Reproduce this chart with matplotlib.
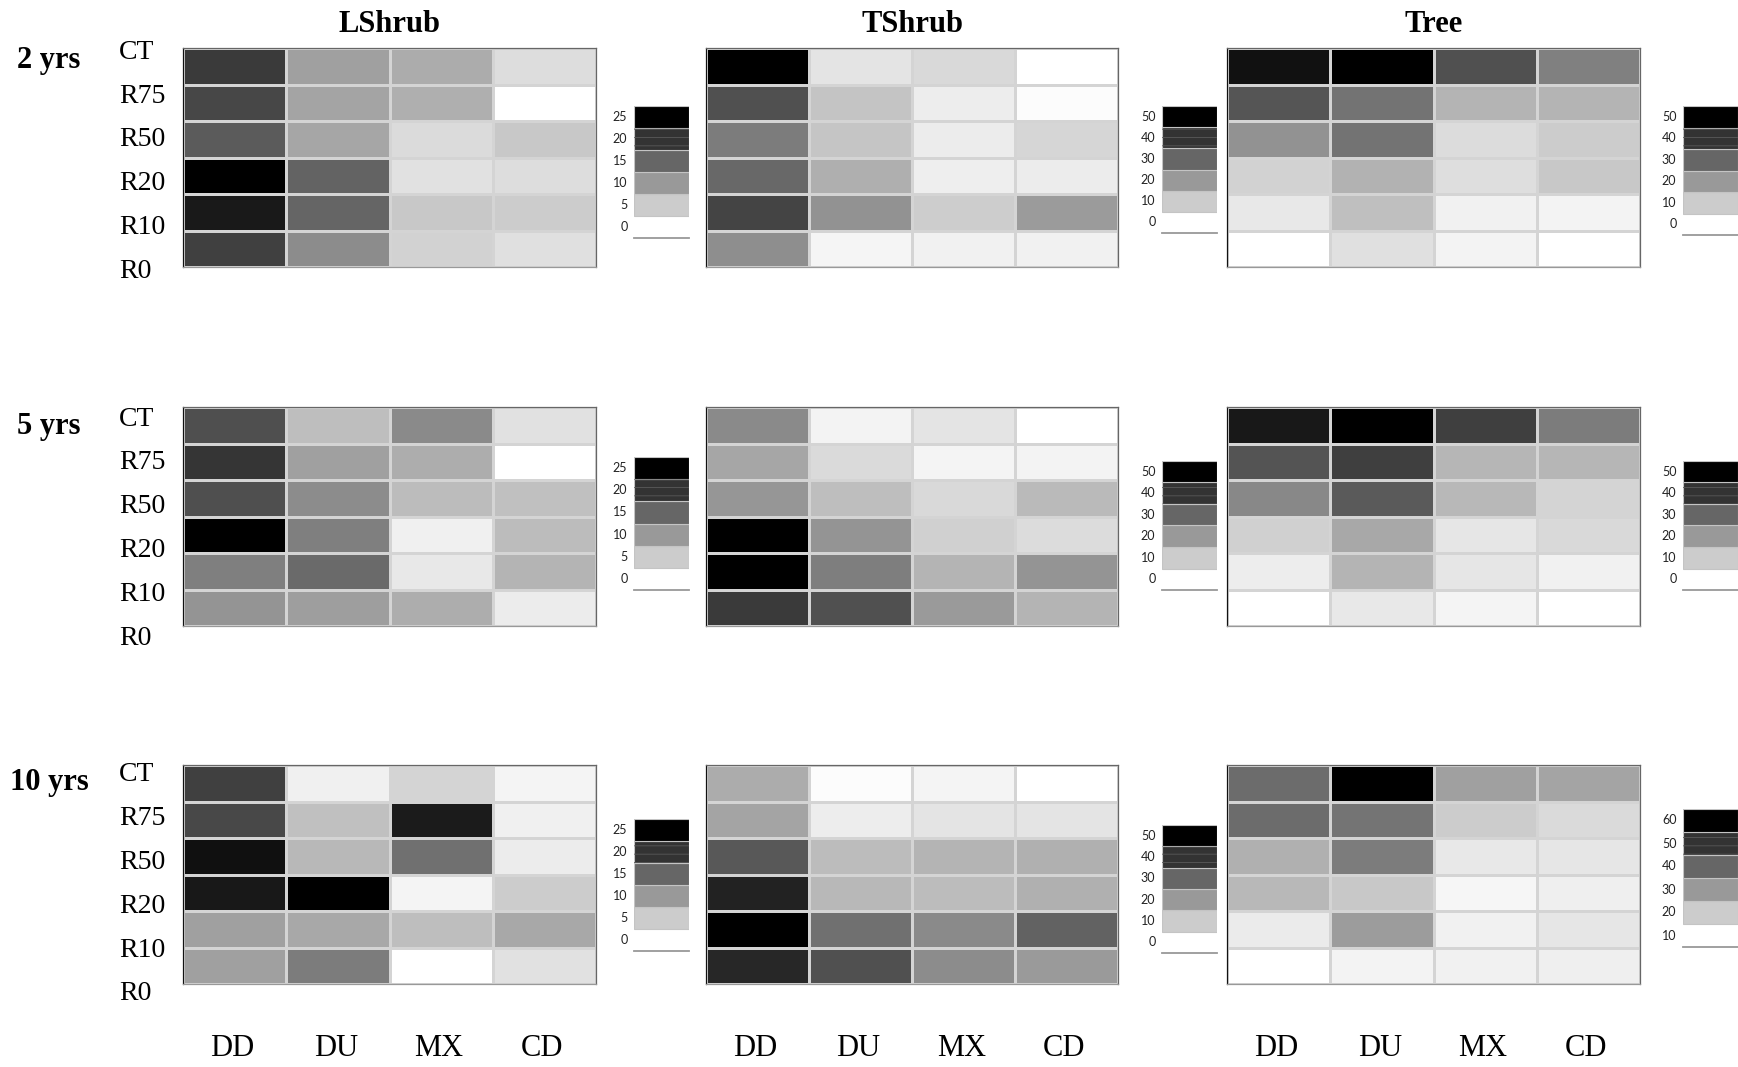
import numpy as np
import matplotlib
matplotlib.use('Agg')
import matplotlib.pyplot as plt
from matplotlib.colors import LinearSegmentedColormap, Normalize
from matplotlib.patches import Rectangle
from matplotlib.transforms import blended_transform_factory

plt.rcParams['font.family'] = 'Liberation Serif'
plt.rcParams['hatch.linewidth'] = 0.6

rows = ['CT', 'R75', 'R50', 'R20', 'R10', 'R0']
cols = ['DD', 'DU', 'MX', 'CD']
groups = ['LShrub', 'TShrub', 'Tree']
periods = ['2 yrs', '5 yrs', '10 yrs']

# cell values (rows CT..R0, cols DD DU MX CD)
lshrub_2 = [[19.3, 9.3, 8.2, 3.4],
            [18.0, 8.9, 7.9, 0.0],
            [16.1, 8.7, 3.6, 5.4],
            [25.0, 15.3, 3.0, 3.4],
            [22.5, 15.1, 5.4, 5.0],
            [18.7, 11.3, 4.4, 3.1]]
tshrub_2 = [[50.0, 5.3, 7.6, 0.0],
            [34.3, 11.6, 3.7, 0.6],
            [25.7, 11.4, 3.9, 8.2],
            [29.6, 15.7, 3.5, 3.9],
            [36.7, 21.4, 9.8, 19.6],
            [22.2, 2.0, 2.9, 2.9]]
tree_2 = [[46.5, 50.0, 34.3, 24.9],
          [33.3, 27.5, 14.7, 14.7],
          [21.4, 27.5, 6.9, 10.0],
          [8.8, 15.1, 6.5, 10.8],
          [4.5, 12.5, 2.9, 2.4],
          [0.0, 6.1, 2.5, 0.0]]

lshrub_5 = [[17.2, 6.4, 11.5, 3.0],
            [19.8, 9.3, 8.1, 0.0],
            [17.2, 11.3, 6.6, 6.2],
            [25.0, 12.5, 1.5, 6.6],
            [12.5, 14.6, 2.3, 7.4],
            [10.5, 9.5, 8.1, 1.9]]
tshrub_5 = [[22.9, 2.5, 5.3, 0.0],
            [17.5, 7.3, 2.2, 2.5],
            [20.6, 12.7, 7.6, 13.5],
            [50.0, 21.0, 9.2, 6.9],
            [50.0, 25.3, 14.7, 21.0],
            [38.6, 34.3, 19.8, 14.7]]
tree_5 = [[45.3, 50.0, 37.5, 25.7],
          [33.5, 37.5, 14.3, 14.3],
          [23.3, 32.4, 13.9, 8.4],
          [9.2, 17.1, 4.9, 7.6],
          [3.7, 14.7, 4.9, 2.9],
          [0.0, 4.5, 2.2, 0.0]]

lshrub_10 = [[18.7, 1.5, 4.2, 1.1],
             [17.9, 6.2, 22.3, 1.5],
             [23.4, 7.0, 14.0, 1.9],
             [22.6, 25.0, 1.1, 5.0],
             [9.3, 8.5, 6.4, 8.5],
             [9.3, 12.8, 0.0, 3.0]]
tshrub_10 = [[16.3, 0.6, 2.2, 0.0],
             [17.8, 3.7, 5.3, 5.3],
             [32.7, 13.1, 14.7, 15.5],
             [43.3, 13.9, 13.1, 15.5],
             [50.0, 28.0, 22.9, 30.8],
             [42.2, 34.3, 22.5, 19.8]]
tree_10 = [[38.8, 60.0, 28.6, 27.8],
           [38.8, 37.3, 20.0, 17.3],
           [25.5, 35.7, 14.5, 14.9],
           [23.9, 20.8, 11.8, 13.3],
           [14.1, 29.4, 12.9, 14.9],
           [10.0, 12.5, 12.9, 13.3]]

# legend steps
steps_25 = [0, 5, 10, 15, 20, 25]
steps_50 = [0, 10, 20, 30, 40, 50]
steps_60 = [10, 20, 30, 40, 50, 60]

data = [[lshrub_2, tshrub_2, tree_2],
        [lshrub_5, tshrub_5, tree_5],
        [lshrub_10, tshrub_10, tree_10]]
steps = [[steps_25, steps_50, steps_50],
         [steps_25, steps_50, steps_50],
         [steps_25, steps_50, steps_60]]

grey = LinearSegmentedColormap.from_list('grey', ['white', 'black'])

W, H = 1738, 1067
fig = plt.figure(figsize=(W / 100, H / 100), dpi=100)


def box(x0, x1, y0, y1):
    return [x0 / W, 1 - y1 / H, (x1 - x0) / W, (y1 - y0) / H]


heat_x = [(183, 596), (706, 1118), (1227, 1640)]
heat_y = [(48, 267), (407, 626), (765, 984)]
leg_x = [(634, 689), (1162, 1217), (1683, 1738)]
leg_y = [[(106, 238), (106, 233), (106, 235)],
         [(457, 590), (461, 590), (461, 590)],
         [(819, 951), (825, 953), (809, 947)]]
label_shift = [0.02, 0.055, 0.045]   # row labels sit a bit low in the source

for p in range(3):
    for g in range(3):
        vals = np.array(data[p][g])
        st = steps[p][g]
        norm = Normalize(vmin=st[0], vmax=st[-1])

        ax = fig.add_axes(box(*heat_x[g], *heat_y[p]))
        ax.pcolormesh(vals, cmap=grey, norm=norm, edgecolors='#d4d4d4', linewidth=1.8)
        ax.set_xlim(0, 4)
        ax.set_ylim(6, 0)
        ax.set_xticks([])
        ax.set_yticks([])
        for s in ax.spines.values():
            s.set_color('#666666')
            s.set_linewidth(0.9)
        ax.spines['left'].set_color('#111111')
        ax.spines['bottom'].set_color('#999999')

        if g == 0:
            tr = blended_transform_factory(fig.transFigure, ax.transAxes)
            for i, r in enumerate(rows):
                ax.text(119 / W, 1 - i / 5 - label_shift[p], r, transform=tr,
                        ha='left', va='center', fontsize=20)
            ax.text(49 / W, 1 - label_shift[p] - 0.035, periods[p], transform=tr,
                    ha='center', va='center', fontsize=22, fontweight='bold')
        if p == 0:
            fig.text((heat_x[g][0] + heat_x[g][1]) / 2 / W, 1 - 24 / H, groups[g],
                     ha='center', va='center', fontsize=22, fontweight='bold')
        if p == 2:
            tr = blended_transform_factory(ax.transData, fig.transFigure)
            for j, c in enumerate(cols):
                ax.text(j + 0.48, 1 - 1049 / H, c, transform=tr,
                        ha='center', va='center', fontsize=22)

        # stepped legend
        lax = fig.add_axes(box(*leg_x[g], *leg_y[p][g]))
        n = len(st)
        for i, v in enumerate(st):
            edge = 'none' if i == 0 else '#c4c4c4'
            lax.bar(0, 1, bottom=i, width=1, align='edge', color=grey(norm(v)),
                    edgecolor=edge, linewidth=0.8)
            lax.text(-0.12, i + 0.5, str(v), ha='right', va='center',
                     fontsize=9, family='Lato', color='#222222')
        lax.add_patch(Rectangle((0, n - 2), 1, 1, facecolor='none', edgecolor='#5a5a5a',
                                hatch='--', linewidth=0))
        lax.plot([0, 1], [0, 0], color='#999999', lw=1.3, clip_on=False)
        lax.set_xlim(0, 1)
        lax.set_ylim(0, n)
        lax.axis('off')

fig.savefig('out.png', dpi=100, facecolor='white')
